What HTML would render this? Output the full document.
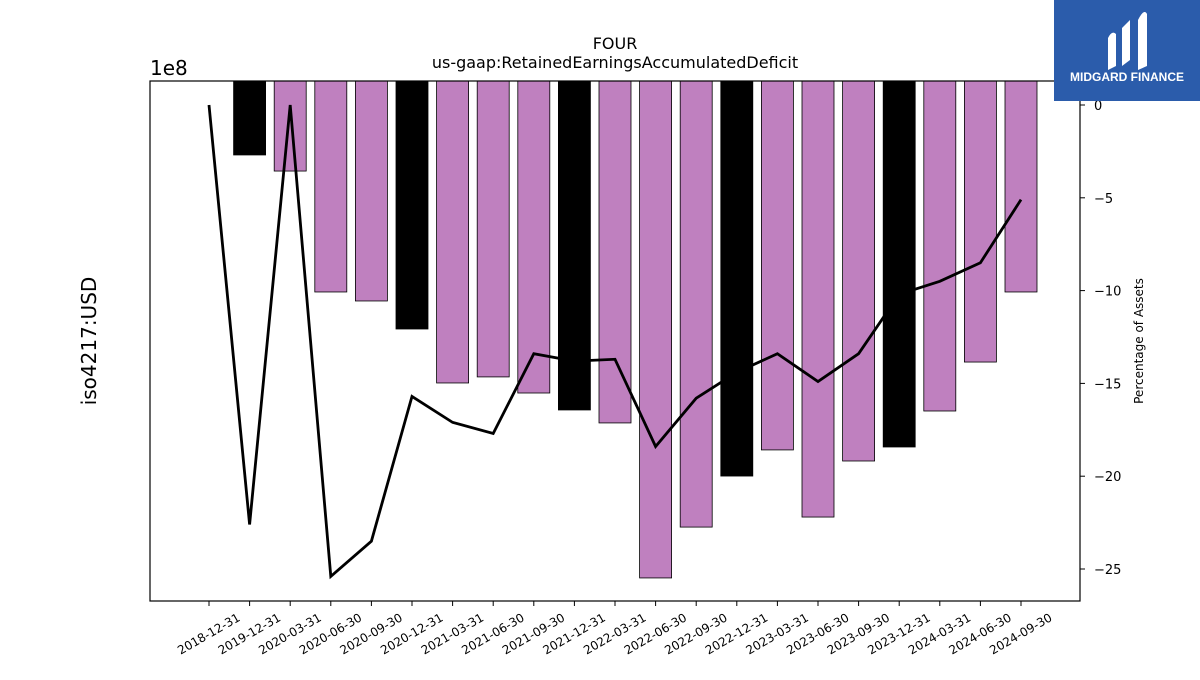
<!DOCTYPE html>
<html><head><meta charset="utf-8"><style>
body{margin:0;background:#fff;font-family:"Liberation Sans","DejaVu Sans",sans-serif}
svg text{font-family:"DejaVu Sans","Liberation Sans",sans-serif}
</style></head><body>
<svg id="chart" width="1200" height="675" xmlns="http://www.w3.org/2000/svg">
<rect width="1200" height="675" fill="#fff"/>
<g id="bars"></g>
<g id="line"></g>
<rect x="150" y="81" width="930" height="520" fill="none" stroke="#000" stroke-width="1.2"/>
<g id="yl"></g>
<g id="yr"></g>
<g id="xa"></g>
<text x="615" y="49" font-size="16" text-anchor="middle">FOUR</text>
<text x="615" y="68" font-size="16" text-anchor="middle">us-gaap:RetainedEarningsAccumulatedDeficit</text>
<text x="150" y="75" font-size="20">1e8</text>
<text transform="translate(96,341) rotate(-90)" font-size="20" text-anchor="middle">iso4217:USD</text>
<text transform="translate(1143,341) rotate(-90)" font-size="12" text-anchor="middle">Percentage of Assets</text>
<g>
<rect x="1054" y="0" width="146" height="101" fill="#2b5cab"/>
<path d="M1108 70 L1108 38 Q1112 30 1116 34 L1116 66 Z M1122 66 L1122 28 L1130 20 L1130 60 Z M1138 70 L1138 20 Q1144 8 1147 14 L1147 66 Z" fill="#fff"/>
<text x="1127" y="81" font-size="12" font-weight="bold" fill="#fff" text-anchor="middle" style="font-family:'Liberation Sans',sans-serif">MIDGARD FINANCE</text>
</g>
</svg>
<script>
const categories=["2018-12-31","2019-12-31","2020-03-31","2020-06-30","2020-09-30","2020-12-31","2021-03-31","2021-06-30","2021-09-30","2021-12-31","2022-03-31","2022-06-30","2022-09-30","2022-12-31","2023-03-31","2023-06-30","2023-09-30","2023-12-31","2024-03-31","2024-06-30","2024-09-30"];
const barValues=[-1.30e8,-1.783e8,-1.876e8,-2.575e8,-2.627e8,-2.789e8,-3.101e8,-3.066e8,-3.159e8,-3.257e8,-3.332e8,-4.228e8,-3.934e8,-3.639e8,-3.488e8,-3.876e8,-3.552e8,-3.471e8,-3.263e8,-2.980e8,-2.575e8];
const pctValues=[0,-22.6,0,-25.4,-23.5,-15.7,-17.1,-17.7,-13.4,-13.8,-13.7,-18.4,-15.8,-14.4,-13.4,-14.9,-13.4,-10.2,-9.5,-8.5,-5.1];
const leftTicks=[-1.5,-2.0,-2.5,-3.0,-3.5,-4.0];
const rightTicks=[0,-5,-10,-15,-20,-25];
const NS="http://www.w3.org/2000/svg";
const yTop=81,yBot=601;
function yL(v){return 106+(-1.5e8-v)/0.5e8*86.5;}
function yR(v){return 105-v*18.56;}
function xC(i){return 209+i*40.6;}
function mk(t,a,p){const e=document.createElementNS(NS,t);for(const k in a)e.setAttribute(k,a[k]);p.appendChild(e);return e;}
const gb=document.getElementById('bars');
categories.forEach((c,i)=>{
 const y=Math.max(yTop,Math.min(yBot,yL(barValues[i])));
 if(y<=yTop)return;
 const r=mk('rect',{x:xC(i)-16,y:yTop,width:32,height:y-yTop,fill:c.endsWith('12-31')?'#000':'#bf80bf',stroke:'#000','stroke-width':0.8},gb);
 
 
});
const pl=mk('polyline',{points:pctValues.map((v,i)=>xC(i)+','+yR(v)).join(' '),fill:'none',stroke:'#000','stroke-width':2.8},document.getElementById('line'));


const gl=document.getElementById('yl');
leftTicks.forEach(v=>{const y=yL(v);mk('line',{x1:145,x2:150,y1:y,y2:y,stroke:'#000'},gl);
 const t=mk('text',{x:141,y:y+4,'font-size':12,'text-anchor':'end'},gl);t.textContent=(v.toFixed(1)).replace('-','−');
 
 });
const gr=document.getElementById('yr');
rightTicks.forEach(v=>{const y=yR(v);mk('line',{x1:1080,x2:1085,y1:y,y2:y,stroke:'#000'},gr);
 const t=mk('text',{x:1094,y:y+5,'font-size':13},gr);t.textContent=String(v).replace('-','−');
 
 });
const gx=document.getElementById('xa');
categories.forEach((c,i)=>{const x=xC(i);mk('line',{x1:x,x2:x,y1:601,y2:606,stroke:'#000'},gx);
 const t=mk('text',{transform:`translate(${x+32},${620}) rotate(-30)`,'font-size':12,'text-anchor':'end'},gx);t.textContent=c;
 
 });
</script>
</body></html>
